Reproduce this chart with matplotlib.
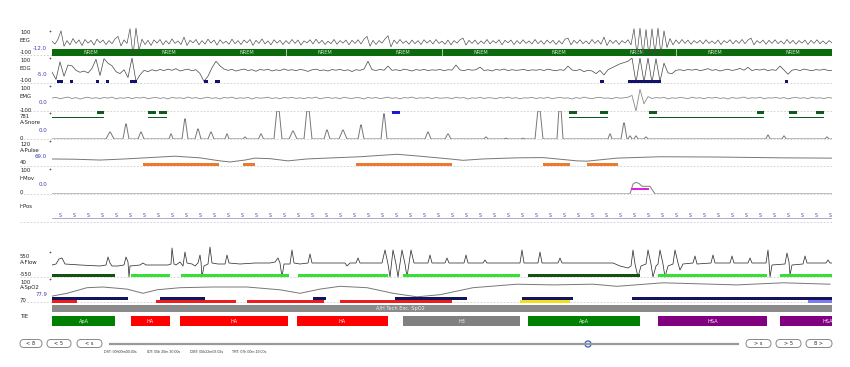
import matplotlib

matplotlib.use("Agg")

import matplotlib.pyplot as plt
import numpy as np
from matplotlib.patches import Circle, FancyBboxPatch

W, H = 850, 367
X0, X1 = 52, 832
SPAN = X1 - X0  # time units across the window (10 epochs)
EPOCH = 78

# ---- data -------------------------------------------------------------
HYPNO_STAGES = ["NREM"] * 10
HYPNO_DIVIDERS = [234, 390, 624]

EEG = [
    5, -15, 20, 80, -30, 10, -20, 25, -10, 15, -25, 18, -8, 12, -22, 20, -5, 14, -18, 10,
    -12, 22, 40, -28, 15, -10, 95, -95, 100, -60, 20, -18, 12, -25, 15, -8, 18, -20, 10, -14,
    22, -10, 8, -18, 35, -25, 12, -6, 18, -20, 10, -15, 20, -8, 14, -22, 16, -10, 6, -16,
    20, -12, 10, -18, 14, -6, 18, -24, 12, -10, 22, -14, 8, -20, 16, -8, 12, -18, 10, -12,
    18, -10, 14, -22, 8, -6, 16, -14, 20, -10, 12, -18, 6, -12, 18, -16, 10, -8, 14, -20,
    12, -10, 16, -14, 20, 40, -30, 12, -18, 10, -8, 22, 45, -35, 14, -12, 18, -10, 8, -16,
    14, -12, 10, -18, 16, -8, 12, -14, 18, -10, 6, -16, 14, -20, 10, -8, 16, 28, -22, 12,
    -10, 14, -16, 8, -12, 18, -14, 10, -8, 16, -20, 12, -6, 14, -18, 10, -12, 16, -10, 8,
    -14, 18, -12, 10, -16, 14, -8, 12, -18, 10, -14, 20, 28, -20, 12, -10, 16, -12, 8, -14,
    18, -10, 12, -16, 35, -25, 14, -10, 12, -18, 10, -8, 16, -20, 95, -90, 100, -95, 90, -100,
    95, -85, 100, -90, 80, -40, 25, -20, 15, -12, 18, -10, 14, -16, 10, -8, 12, -14, 16, -10,
    8, -12, 14, -18, 10, -6, 16, -14, 12, -10, 18, -12, 14, 28, -20, 10, -8, 14, -16, 12,
    -10, 16, -12, 8, -14, 18, -10, 12, -16, 10, -8, 14, -18, 12, -10, 16, -12, 8, -14, 10, -6,
]

EOG = [
    -8, -65, 70, -40, 46, 40, 5, -10, 0, -15, 20, 90, -35, 95, 60, 40, -5, -20, 10, -50,
    100, -80, -30, 5, -5, 10, 0, 12, 3, 15, 5, 18, 0, 8, 14, 2, 10, -20, -80, -40,
    25, 75, 40, 15, 5, 12, 0, 8, 15, 4, 10, -2, 12, 6, 14, 0, 9, 3, 16, 5,
    10, 2, 12, 7, -3, 9, 14, 4, 8, 0, 11, 6, 13, 3, 9, -4, 10, 5, 15, 75,
    10, 4, 12, 6, 38, 5, 10, 2, 14, 8, 0, 11, 5, 13, 3, 9, 6, 12, 2, 10,
    7, 46, 8, 3, 12, 6, 10, 30, 4, 9, 0, 12, 6, 15, 3, 10, 5, 8, 13, 2,
    9, 6, 11, 4, 14, 7, 2, 10, 5, 38, 8, 3, 12, -5, 6, 0, -20, 4, -30, 10,
    25, 40, 55, 65, 75, 100, -90, 100, -85, 100, -90, 95, -80, 60, -15, -20, 5, 10, 3, 12,
    6, 14, 2, 9, 18, 5, 11, 0, 8, 14, 4, 10, 20, 6, 28, 3, 12, 7, 15, 2,
    10, 5, 38, 8, -25, 6, 12, 3, 15, 8, 2, 11, 6, 14, 4, 5,
]
EOG_EVENTS = [(5, 6), (18, 3), (44, 3), (54, 3), (78, 7), (152, 4), (163, 5),
              (548, 4), (576, 33), (733, 3)]

EMG = [
    8, 14, 2, 10, 16, 4, 12, 0, 9, 15, 5, 11, 3, 13, 7, 16, 1, 10, 6, 14,
    3, 12, 8, 15, 2, 9, 13, 5, 11, 0, 14, 7, 10, 4, 16, 6, 12, 2, 9, 15,
    5, 11, 1, 13, 8, 16, 3, 10, 6, 14, 0, 12, 7, 9, 15, 4, 11, 2, 13, 8,
    14, 5, 10, 3, 12, 7, 16, 1, 9, 13, 6, 11, 2, 15, 8, 4, 12, 10, 0, 14,
    6, 13, 3, 9, 15, 5, 11, 1, 12, 8, 16, 4, 10, 7, 14, 2, 13, 6, 9, 11,
    3, 15, 8, 12, 0, 10, 6, 14, 4, 11, 9, 2, 13, 7, 16, 5, 12, 1, 10, 8,
    14, 4, 11, 6, 15, 2, 9, 13, 7, 10, 0, 12, 5, 16, 8, 3, 11, 14, 6, 9,
    2, 13, 7, 10, 15, 30, -100, 80, -40, 20, 4, 12, 8, 14, 1, 10, 6, 13, 9, 3,
    15, 7, 11, 2, 12, 8, 14, 5, 10, 0, 13, 6, 9, 16, 4, 11, 7, 15, 2, 10,
    8, 13, 5, 12, 1, 9, 14, 6, 11, 3, 15, 7, 10, 4, 12, 8,
]

SNORE_MAX = 781
SNORE_PEAK_T = [58, 74, 89, 119, 133, 146, 159, 175, 193, 209, 226, 241, 256, 275, 291,
                309, 332, 376, 396, 434, 454, 471, 487, 508, 558, 572, 578, 584, 594,
                716, 732, 775]
SNORE_PEAK_H = [195, 418, 195, 140, 558, 279, 195, 140, 56, 140, 781, 223, 781, 251, 251,
                390, 700, 195, 140, 56, 20, 20, 781, 781, 140, 446, 84, 84, 56,
                112, 84, 56]
SNORE_PEAK_W = [4, 3, 3, 2, 3, 3, 3, 2, 2, 2.5, 4, 4, 4, 3, 4,
                3, 3, 3, 3, 2, 2, 2, 4, 3, 2, 3, 2, 2, 2,
                2, 2, 2]
SNORE_MARKS = [(45, 7), (96, 8), (107, 8), (517, 8), (548, 8), (597, 8), (705, 7),
               (737, 8), (764, 8)]
SNORE_AROUSAL = [(340, 8)]
SNORE_RUNS = [(0, 52), (96, 19), (517, 39), (597, 115), (737, 35)]

PULSE_T = [0, 23, 48, 73, 98, 123, 148, 168, 178, 193, 203, 218, 236, 255, 281, 308,
           345, 368, 398, 411, 431, 465, 491, 511, 525, 535, 565, 608, 665, 731, 780]
PULSE_BPM = [62, 61, 58, 62, 67, 72, 66, 55, 51, 58, 65, 63, 55, 62, 66, 70,
             79, 72, 62, 57, 62, 66, 67, 60, 55, 54, 65, 70, 69, 66, 65]
PULSE_EVENTS = [(91, 76), (191, 12), (304, 96), (491, 27), (535, 31)]

HMOV_T = [0, 578, 581, 584, 587, 590, 598, 603, 780]
HMOV_V = [0, 0, 45, 53, 48, 35, 35, 0, 0]
HMOV_EVENTS = [(579, 18)]

HPOS_T = np.arange(8, SPAN, 14)
HPOS = ["S"] * len(HPOS_T)

FLOW = [
    (0, 0), (4, 50), (7, 300), (10, 350), (13, 50), (28, 0), (48, -50), (54, 0), (56, 400),
    (58, 100), (60, -50), (66, -50), (72, 0), (74, 400), (76, 150), (77, -600), (78, -50),
    (88, 0), (91, 100), (94, 0), (116, 0), (119, 50), (120, 850), (122, 50), (124, 0),
    (128, 150), (131, -50), (133, 650), (135, 100), (140, 50), (143, -50), (146, 100),
    (148, 500), (149, 150), (150, -600), (152, -50), (156, 50), (158, 900), (160, 100),
    (166, 50), (173, 50), (175, 500), (177, 100), (188, 50), (203, 100), (218, 100),
    (223, 150), (226, 350), (228, 100), (230, -600), (232, 50), (238, 50), (240, 750),
    (242, 100), (248, 50), (256, 100), (258, 550), (260, 100), (278, 100), (293, 100),
    (295, -50), (298, 100), (304, 100), (306, 350), (308, 100), (330, 100), (333, 750),
    (336, 50), (338, -600), (341, 750), (344, 50), (346, -600), (350, 750), (353, 50),
    (355, -600), (359, 750), (362, 100), (376, 100), (378, 500), (380, 100), (393, 100),
    (395, 350), (397, 100), (412, 100), (414, 500), (416, 100), (431, 100), (433, 250),
    (435, 100), (468, 100), (470, 750), (472, 100), (486, 100), (488, 650), (490, 100),
    (506, 100), (508, 350), (510, 100), (561, 100), (568, -50), (576, -150), (579, -50),
    (581, 750), (583, 50), (586, -600), (589, -50), (594, 50), (596, 750), (599, 50),
    (601, -600), (604, -50), (606, 50), (608, 750), (611, 50), (613, -600), (616, -50),
    (621, 50), (623, 750), (626, 100), (628, -250), (631, 50), (641, 100), (643, 450),
    (645, 50), (659, 100), (661, 500), (663, 100), (678, 100), (680, 450), (682, 100),
    (696, 100), (698, 350), (700, 100), (714, 100), (716, 750), (717, 150), (718, -600),
    (720, 0), (733, 50), (735, 600), (737, 150), (738, -500), (740, 0), (751, 50),
    (753, 450), (755, 100), (774, 100), (776, 250), (778, 100), (780, 100),
]
FLOW_DARK = [(0, 63), (476, 112)]
FLOW_LIGHT = [(79, 39), (129, 108), (246, 90), (351, 117), (606, 109), (728, 52)]

SPO2_T = [0, 15, 35, 51, 75, 91, 105, 128, 161, 195, 228, 248, 268, 288, 315, 341,
          365, 388, 421, 465, 501, 541, 565, 611, 685, 731, 778]
SPO2_V = [77, 81, 89, 90, 87, 81, 86, 89, 90, 90, 86, 81, 87, 91, 89, 81,
          76, 79, 89, 94, 93, 94, 91, 96, 93, 96, 94]
SPO2_NAVY = [(0, 76), (108, 45), (261, 13), (343, 72), (470, 51), (580, 200)]
SPO2_RED = [(0, 25), (104, 80), (195, 77), (288, 112)]
SPO2_YELLOW = [(468, 50)]
SPO2_LIGHT = [(756, 24)]
EXCLUSION = [(0, SPAN)]
EXCLUSION_LABEL = "A/H Tech Exc. SpO2"

TIE_START = [0, 79, 128, 245, 351, 476, 606, 728]
TIE_LEN = [63, 39, 108, 91, 117, 112, 109, 95]
TIE_TYPE = ["ApA", "HA", "HA", "HA", "H3", "ApA", "HSA", "HSA"]

CURSOR = 536
STATUS = ["DST: 00h00m00.00s", "IDT: 05h 20m 30.00s", "DMT: 05h22m03.02s",
          "TRT: 07h 00m 19.00s"]

# ---- style ------------------------------------------------------------
TRACE = "#3a3a3a"
BLUE = "#3c3cb4"
TIE_COLORS = {"ApA": "#008000", "HA": "#ff0000", "H3": "#808080", "HSA": "#800080"}
FS = 3.9


def band(fig, top, bottom, ylim=(0, 1)):
    ax = fig.add_axes([X0 / W, 1 - bottom / H, SPAN / W, (bottom - top) / H])
    ax.set_xlim(0, SPAN)
    ax.set_ylim(*ylim)
    ax.axis("off")
    ax.patch.set_alpha(0)
    return ax


def strip(fig, top, bottom, spans, color):
    ax = band(fig, top, bottom)
    ax.broken_barh(spans, (0, 1), facecolors=color, linewidth=0)
    return ax


def trace(ax, values, color=TRACE, lw=0.5):
    ax.plot(np.linspace(0, SPAN, len(values)), values, color=color, lw=lw)


fig = plt.figure(figsize=(W / 100, H / 100), dpi=100)
fig.patch.set_facecolor("white")

bg = fig.add_axes([0, 0, 1, 1])
bg.set_xlim(0, W)
bg.set_ylim(H, 0)
bg.axis("off")

# dashed baselines under each channel
for y in (55, 83, 111, 139, 166, 194, 222, 277, 302):
    bg.plot([20, X1], [y, y], color="#cccccc", lw=0.6, dashes=(2, 2))
for y in (31, 58, 86, 113, 141, 169, 252, 279):
    bg.plot(50, y, marker="+", ms=2, color="#555555", mew=0.5)

# channel labels: (top, name, value, bottom) with rows in px
labels = [
    ("100", "EEG", "-12.0", "-100", (33, 41, 48, 53)),
    ("100", "EOG", "-5.0", "-100", (61, 68, 75, 81)),
    ("100", "EMG", "0.0", "-100", (89, 96, 102, 110)),
    ("781", "A-Snore", "0.0", "0", (116, 122, 130, 138)),
    ("120", "A-Pulse", "69.0", "40", (144, 150, 157, 163)),
    ("100", "HMov", "0.0", "0", (171, 178, 185, 192)),
    ("", "HPos", "", "", (0, 206, 0, 0)),
    ("550", "A-Flow", "", "-550", (256, 262, 0, 275)),
    ("100", "A-SpO2", "77.9", "70", (282, 288, 295, 301)),
    ("", "TIE", "", "", (0, 317, 0, 0)),
]
for top, name, value, bottom, rows in labels:
    for text, y in ((top, rows[0]), (name, rows[1]), (bottom, rows[3])):
        if text:
            bg.text(20, y, text, fontsize=FS, color="#222222", va="center")
    if value:
        bg.text(47, rows[2], value, fontsize=FS, color=BLUE, va="center", ha="right")

# hypnogram bar with EEG on top
hyp = strip(fig, 49, 55.5, [(0, SPAN)], "#0b6a0b")
for i, stage in enumerate(HYPNO_STAGES):
    hyp.text(EPOCH * (i + 0.5), 0.5, stage, fontsize=3.6, color="#cfe4cf",
             ha="center", va="center")
for x in HYPNO_DIVIDERS:
    hyp.axvline(x, color="#e8f0e8", lw=0.5)

trace(band(fig, 28, 56, (-100, 100)), EEG, "#444444", 0.45)

eog = band(fig, 58, 84, (-100, 100))
trace(eog, EOG, "#444444", 0.5)
strip(fig, 79.5, 83, EOG_EVENTS, "#12126a")

trace(band(fig, 87, 111, (-100, 100)), EMG, "#8a8a8a", 0.6)

# snore peaks
pts = [(0, 0)]
for t, h, w in zip(SNORE_PEAK_T, SNORE_PEAK_H, SNORE_PEAK_W):
    flat = 1.2 if h >= SNORE_MAX else 0.3
    pts += [(t - w, 0), (t - flat, h), (t + flat, h), (t + w, 0)]
pts.append((SPAN, 0))
snore = band(fig, 111, 139, (0, SNORE_MAX))
snore.plot(*zip(*pts), color="#777777", lw=0.7)
strip(fig, 111, 114, SNORE_MARKS, "#0f5a1e")
strip(fig, 111, 114, SNORE_AROUSAL, "#1a1ad0")
strip(fig, 116.8, 118.2, SNORE_RUNS, "#0f5a1e")

pulse = band(fig, 143, 165, (40, 120))
pulse.plot(PULSE_T, PULSE_BPM, color="#777777", lw=0.7)
strip(fig, 163, 166, PULSE_EVENTS, "#ec7a2c")

hmov = band(fig, 172, 194, (0, 100))
hmov.plot(HMOV_T, HMOV_V, color="#8c8c8c", lw=0.8)
strip(fig, 187.5, 190, HMOV_EVENTS, "#e020e0")

hpos = band(fig, 210, 220)
hpos.axhline(0.2, color="#6a6aa8", lw=0.4)
for t, pos in zip(HPOS_T, HPOS):
    hpos.text(t, 0.45, pos, fontsize=3.4, color="#4a4aa0", ha="center", va="center")

flow = band(fig, 246, 284, (-950, 950))
flow.plot(*zip(*FLOW), color="#333333", lw=0.55)
strip(fig, 274, 277, FLOW_DARK, "#145214")
strip(fig, 274, 277, FLOW_LIGHT, "#33e033")

spo2 = band(fig, 280, 301, (70, 100))
spo2.plot(SPO2_T, SPO2_V, color="#777777", lw=0.7)
strip(fig, 297, 300, SPO2_NAVY, "#14145e")
strip(fig, 300, 303, SPO2_RED, "#ee1c1c")
strip(fig, 300, 303, SPO2_YELLOW, "#f0e020")
strip(fig, 300, 303, SPO2_LIGHT, "#7c7cf0")

exc = strip(fig, 305, 312, EXCLUSION, "#8a8a8a")
exc.text(348, 0.5, EXCLUSION_LABEL, fontsize=3.6, color="#f0f0f0", ha="center", va="center")

tie = band(fig, 316, 326)
tie.broken_barh(list(zip(TIE_START, TIE_LEN)), (0, 1),
                facecolors=[TIE_COLORS[k] for k in TIE_TYPE], linewidth=0)
for s, n, k in zip(TIE_START, TIE_LEN, TIE_TYPE):
    tie.text(s + n / 2, 0.45, k, fontsize=3.6, color="#f4f4f4", ha="center",
             va="center", clip_on=True)

# navigation controls
for x0, x1, text in [(20, 42, "< 8"), (47, 71, "< 5"), (77, 102, "< s"),
                     (746, 771, "> s"), (776, 801, "> 5"), (806, 832, "8 >")]:
    bg.add_patch(FancyBboxPatch((x0, 339.5), x1 - x0, 8,
                                boxstyle="round,pad=0,rounding_size=4",
                                facecolor="white", edgecolor="#888888", lw=0.7))
    bg.text((x0 + x1) / 2, 343.5, text, fontsize=3.6, color="#222222",
            ha="center", va="center")
bg.plot([109, 739], [344, 344], color="#999999", lw=1.6, solid_capstyle="butt")
bg.add_patch(Circle((X0 + CURSOR, 344), 3, facecolor="white", edgecolor="#3a6fc4", lw=1))
for x, text in zip((104, 147, 190, 232), STATUS):
    bg.text(x, 352, text, fontsize=2.6, family="Liberation Sans", color="#333333",
            va="center")

fig.savefig("out.png", dpi=100, facecolor="white")
